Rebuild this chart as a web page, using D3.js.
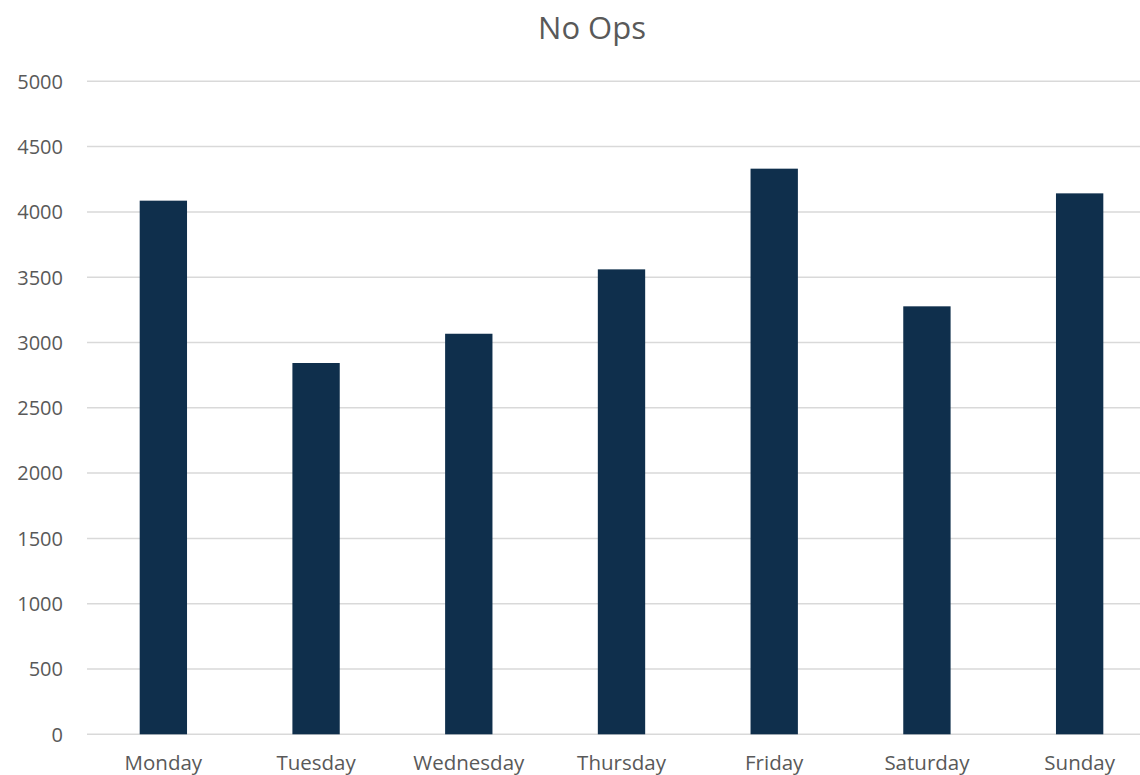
<!DOCTYPE html>
<html><head><meta charset="utf-8">
<script src="https://cdn.jsdelivr.net/npm/d3@7"></script>
<style>html,body{margin:0;padding:0;background:#fff;overflow:hidden}</style>
</head><body>
<svg id="c" width="1140" height="775"></svg>
<script>
const categories = ["Monday","Tuesday","Wednesday","Thursday","Friday","Saturday","Sunday"];
const values = [4086, 2843, 3067, 3560, 4331, 3277, 4142];
const yTicks = [0,500,1000,1500,2000,2500,3000,3500,4000,4500,5000];
const title = "No Ops";

const svg = d3.select("#c");
const font = "'Open Sans', sans-serif";
const textColor = "#595959";
const x = d3.scaleBand().domain(categories).range([87, 1156]).paddingInner(0.69).paddingOuter(0.345);
const y = d3.scaleLinear().domain([0,5000]).range([734.3, 81.3]);

svg.append("g").selectAll("line").data(yTicks).join("line")
  .attr("x1", 87).attr("x2", 1156)
  .attr("y1", d=>y(d)).attr("y2", d=>y(d))
  .attr("stroke", "#d9d9d9").attr("stroke-width", 1.5);

const yAxis = d3.axisLeft(y).tickValues(yTicks).tickFormat(d3.format("d")).tickSize(0).tickPadding(0);
const ga = svg.append("g").attr("transform","translate(63,0)").call(yAxis);
ga.select(".domain").remove();
ga.selectAll("text").attr("font-family", font).attr("font-size", 20).attr("fill", textColor).attr("dy","0.34em");

svg.append("g").selectAll("rect").data(values).join("rect")
  .attr("x", (d,i)=>x(categories[i]))
  .attr("width", x.bandwidth())
  .attr("y", d=>y(d))
  .attr("height", d=>y(0)-y(d))
  .attr("fill", "#0f2f4c");

const xAxis = d3.axisBottom(x).tickSize(0).tickPadding(0);
const gx = svg.append("g").attr("transform","translate(0,755)").call(xAxis);
gx.select(".domain").remove();
gx.selectAll("text").attr("font-family", font).attr("font-size", 20.5).attr("fill", textColor).attr("dy","0.71em");

svg.append("text").attr("x", 592).attr("y", 39).attr("text-anchor","middle")
  .attr("font-family", font).attr("font-size", 31).attr("fill", textColor).text(title);
</script>
</body></html>
